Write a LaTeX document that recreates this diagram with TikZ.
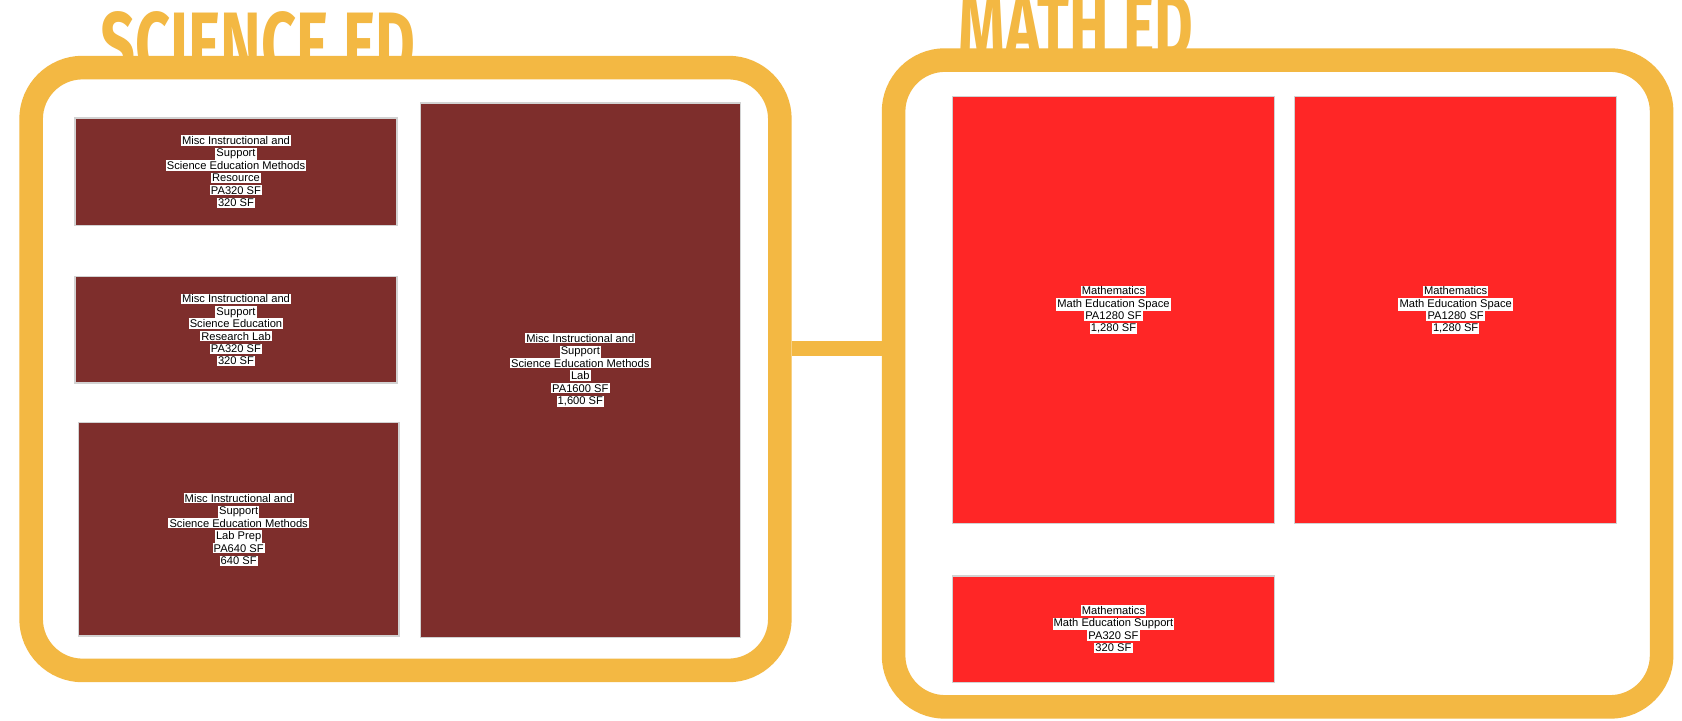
\documentclass[tikz,border=0pt]{standalone}
\usepackage{fontspec}
\setmainfont{Liberation Sans}
\newfontfamily\titlefont{Fira Sans}
\definecolor{gold}{HTML}{F3B843}
\definecolor{maroon}{HTML}{7E2E2C}
\definecolor{brightred}{HTML}{FF2626}
\newcommand\hlline[1]{{\setlength{\fboxsep}{0.5pt}\colorbox{white}{#1}}}
\newcommand\lblfont{\fontsize{5.2}{5.8}\selectfont\setlength{\lineskiplimit}{-5pt}\relax}
\tikzset{
  frame/.style={draw=gold, line width=11pt, fill=white, rounded corners=24pt, inner sep=0pt},
  sbox/.style={fill=maroon, draw=gray!35, line width=0.6pt, inner sep=0pt},
  mbox/.style={fill=brightred, draw=gray!35, line width=0.6pt, inner sep=0pt},
  lbl/.style={align=center, inner sep=0pt, text=black, font=\lblfont},
  title/.style={text=gold, inner sep=0pt, anchor=base west,
    font=\titlefont\bfseries\fontsize{42}{42}\selectfont},
  bar/.style={draw=gold, line width=7pt}
}
\begin{document}
\begin{tikzpicture}[x=0.5pt,y=-0.5pt]
\useasboundingbox (0,0) rectangle (1568,672);
\clip (0,0) rectangle (1568,672);
\fill[white] (0,0) rectangle (1568,672);
% titles
\node[title] (scititle) at (93,70) {\scalebox{0.68}[1]{SCIENCE ED}};
\node[title] (mathtitle) at (893,54) {\scalebox{0.66}[1]{MATH ED}};
% frames
\node[frame, minimum width=349pt, minimum height=281pt] (sci) at (378,344) {};
\node[frame, minimum width=358pt, minimum height=301.5pt] (math) at (1191,357.5) {};
\coordinate (bary) at (0,325);
\draw[bar] (sci.east |- bary) -- (math.west |- bary);
% science boxes
\node[sbox, minimum width=150pt, minimum height=50pt] (a) at (220,160) {};
\node[sbox, minimum width=150pt, minimum height=49.5pt] (b) at (220,307.5) {};
\node[sbox, minimum width=149.5pt, minimum height=99.5pt] (c) at (222.5,493.5) {};
\node[sbox, minimum width=149pt, minimum height=249pt] (d) at (541,345) {};
\node[lbl] (ta) at (a.center) {\hlline{Misc Instructional and}\\\hlline{Support}\\\hlline{Science Education Methods}\\\hlline{Resource}\\\hlline{PA320 SF}\\\hlline{320 SF}};
\node[lbl] (tb) at (b.center) {\hlline{Misc Instructional and}\\\hlline{Support}\\\hlline{Science Education}\\\hlline{Research Lab}\\\hlline{PA320 SF}\\\hlline{320 SF}};
\node[lbl] (tc) at (c.center) {\hlline{Misc Instructional and}\\\hlline{Support}\\\hlline{Science Education Methods}\\\hlline{Lab Prep}\\\hlline{PA640 SF}\\\hlline{640 SF}};
\node[lbl] (td) at (d.center) {\hlline{Misc Instructional and}\\\hlline{Support}\\\hlline{Science Education Methods}\\\hlline{Lab}\\\hlline{PA1600 SF}\\\hlline{1,600 SF}};
% math boxes
\node[mbox, minimum width=150pt, minimum height=199pt] (e) at (1038,289) {};
\node[mbox, minimum width=150pt, minimum height=199pt] (f) at (1357,289) {};
\node[mbox, minimum width=150pt, minimum height=49.5pt] (g) at (1038,586.5) {};
\node[lbl] (te) at (e.center) {\hlline{Mathematics}\\\hlline{Math Education Space}\\\hlline{PA1280 SF}\\\hlline{1,280 SF}};
\node[lbl] (tf) at (f.center) {\hlline{Mathematics}\\\hlline{Math Education Space}\\\hlline{PA1280 SF}\\\hlline{1,280 SF}};
\node[lbl] (tg) at (g.center) {\hlline{Mathematics}\\\hlline{Math Education Support}\\\hlline{PA320 SF}\\\hlline{320 SF}};
\end{tikzpicture}
\end{document}
